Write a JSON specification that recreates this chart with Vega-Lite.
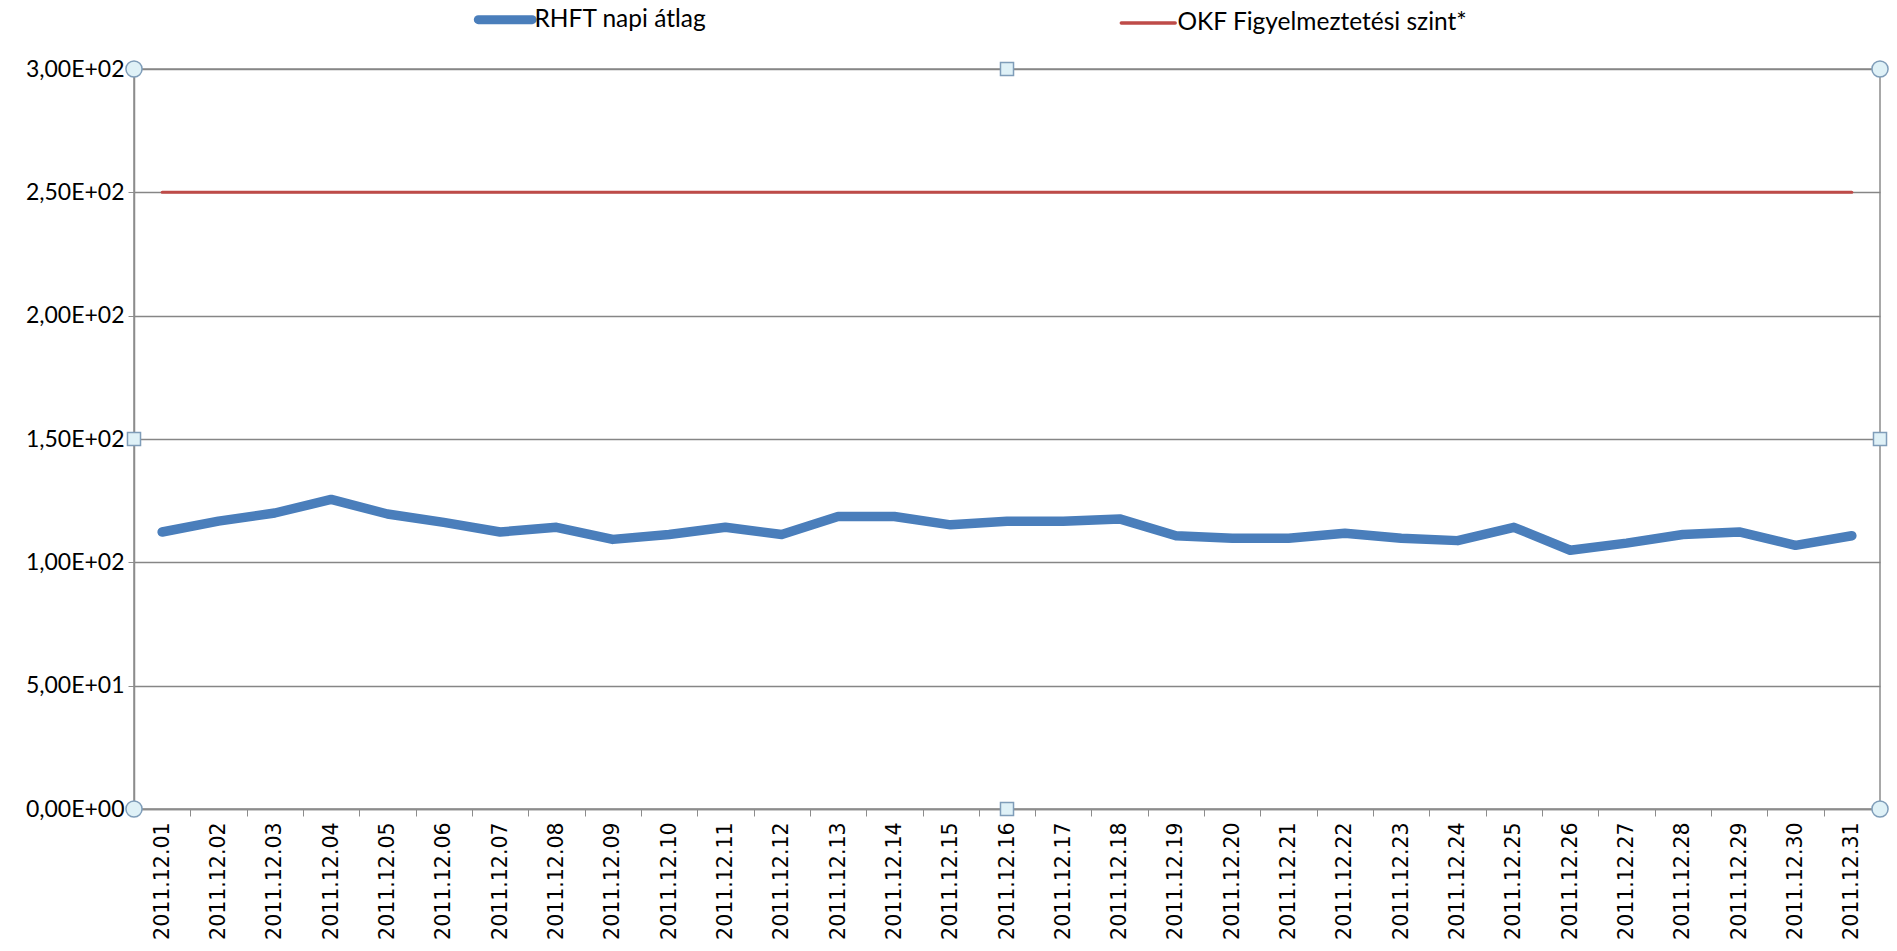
{
  "$schema": "https://vega.github.io/schema/vega-lite/v6.json",
  "width": 1746,
  "height": 740,
  "padding": {"left": 25, "top": 7, "right": 5, "bottom": 5},
  "background": "white",
  "config": {
    "view": {"stroke": "#8c8c8c", "strokeWidth": 1.5},
    "font": "Lato"
  },
  "datasets": {
    "series": [
      {"date": "2011.12.01", "series": "RHFT napi átlag", "value": 112.3},
      {"date": "2011.12.02", "series": "RHFT napi átlag", "value": 116.7},
      {"date": "2011.12.03", "series": "RHFT napi átlag", "value": 120.0},
      {"date": "2011.12.04", "series": "RHFT napi átlag", "value": 125.5},
      {"date": "2011.12.05", "series": "RHFT napi átlag", "value": 119.6},
      {"date": "2011.12.06", "series": "RHFT napi átlag", "value": 116.2},
      {"date": "2011.12.07", "series": "RHFT napi átlag", "value": 112.3},
      {"date": "2011.12.08", "series": "RHFT napi átlag", "value": 114.2},
      {"date": "2011.12.09", "series": "RHFT napi átlag", "value": 109.3},
      {"date": "2011.12.10", "series": "RHFT napi átlag", "value": 111.3},
      {"date": "2011.12.11", "series": "RHFT napi átlag", "value": 114.2},
      {"date": "2011.12.12", "series": "RHFT napi átlag", "value": 111.3},
      {"date": "2011.12.13", "series": "RHFT napi átlag", "value": 118.6},
      {"date": "2011.12.14", "series": "RHFT napi átlag", "value": 118.6},
      {"date": "2011.12.15", "series": "RHFT napi átlag", "value": 115.2},
      {"date": "2011.12.16", "series": "RHFT napi átlag", "value": 116.7},
      {"date": "2011.12.17", "series": "RHFT napi átlag", "value": 116.7},
      {"date": "2011.12.18", "series": "RHFT napi átlag", "value": 117.6},
      {"date": "2011.12.19", "series": "RHFT napi átlag", "value": 110.8},
      {"date": "2011.12.20", "series": "RHFT napi átlag", "value": 109.8},
      {"date": "2011.12.21", "series": "RHFT napi átlag", "value": 109.8},
      {"date": "2011.12.22", "series": "RHFT napi átlag", "value": 111.8},
      {"date": "2011.12.23", "series": "RHFT napi átlag", "value": 109.8},
      {"date": "2011.12.24", "series": "RHFT napi átlag", "value": 108.8},
      {"date": "2011.12.25", "series": "RHFT napi átlag", "value": 114.2},
      {"date": "2011.12.26", "series": "RHFT napi átlag", "value": 104.9},
      {"date": "2011.12.27", "series": "RHFT napi átlag", "value": 107.8},
      {"date": "2011.12.28", "series": "RHFT napi átlag", "value": 111.3},
      {"date": "2011.12.29", "series": "RHFT napi átlag", "value": 112.3},
      {"date": "2011.12.30", "series": "RHFT napi átlag", "value": 106.9},
      {"date": "2011.12.31", "series": "RHFT napi átlag", "value": 110.8},
      {"date": "2011.12.01", "series": "OKF Figyelmeztetési szint*", "value": 250},
      {"date": "2011.12.02", "series": "OKF Figyelmeztetési szint*", "value": 250},
      {"date": "2011.12.03", "series": "OKF Figyelmeztetési szint*", "value": 250},
      {"date": "2011.12.04", "series": "OKF Figyelmeztetési szint*", "value": 250},
      {"date": "2011.12.05", "series": "OKF Figyelmeztetési szint*", "value": 250},
      {"date": "2011.12.06", "series": "OKF Figyelmeztetési szint*", "value": 250},
      {"date": "2011.12.07", "series": "OKF Figyelmeztetési szint*", "value": 250},
      {"date": "2011.12.08", "series": "OKF Figyelmeztetési szint*", "value": 250},
      {"date": "2011.12.09", "series": "OKF Figyelmeztetési szint*", "value": 250},
      {"date": "2011.12.10", "series": "OKF Figyelmeztetési szint*", "value": 250},
      {"date": "2011.12.11", "series": "OKF Figyelmeztetési szint*", "value": 250},
      {"date": "2011.12.12", "series": "OKF Figyelmeztetési szint*", "value": 250},
      {"date": "2011.12.13", "series": "OKF Figyelmeztetési szint*", "value": 250},
      {"date": "2011.12.14", "series": "OKF Figyelmeztetési szint*", "value": 250},
      {"date": "2011.12.15", "series": "OKF Figyelmeztetési szint*", "value": 250},
      {"date": "2011.12.16", "series": "OKF Figyelmeztetési szint*", "value": 250},
      {"date": "2011.12.17", "series": "OKF Figyelmeztetési szint*", "value": 250},
      {"date": "2011.12.18", "series": "OKF Figyelmeztetési szint*", "value": 250},
      {"date": "2011.12.19", "series": "OKF Figyelmeztetési szint*", "value": 250},
      {"date": "2011.12.20", "series": "OKF Figyelmeztetési szint*", "value": 250},
      {"date": "2011.12.21", "series": "OKF Figyelmeztetési szint*", "value": 250},
      {"date": "2011.12.22", "series": "OKF Figyelmeztetési szint*", "value": 250},
      {"date": "2011.12.23", "series": "OKF Figyelmeztetési szint*", "value": 250},
      {"date": "2011.12.24", "series": "OKF Figyelmeztetési szint*", "value": 250},
      {"date": "2011.12.25", "series": "OKF Figyelmeztetési szint*", "value": 250},
      {"date": "2011.12.26", "series": "OKF Figyelmeztetési szint*", "value": 250},
      {"date": "2011.12.27", "series": "OKF Figyelmeztetési szint*", "value": 250},
      {"date": "2011.12.28", "series": "OKF Figyelmeztetési szint*", "value": 250},
      {"date": "2011.12.29", "series": "OKF Figyelmeztetési szint*", "value": 250},
      {"date": "2011.12.30", "series": "OKF Figyelmeztetési szint*", "value": 250},
      {"date": "2011.12.31", "series": "OKF Figyelmeztetési szint*", "value": 250}
    ],
    "handles": [
      {"hx": 0, "hy": 0, "kind": "circle"},
      {"hx": 1, "hy": 0, "kind": "circle"},
      {"hx": 0, "hy": 300, "kind": "circle"},
      {"hx": 1, "hy": 300, "kind": "circle"},
      {"hx": 0.5, "hy": 0, "kind": "square"},
      {"hx": 0.5, "hy": 300, "kind": "square"},
      {"hx": 0, "hy": 150, "kind": "square"},
      {"hx": 1, "hy": 150, "kind": "square"}
    ]
  },
  "layer": [
    {
      "data": {"name": "series"},
      "mark": {"type": "line", "strokeCap": "round", "strokeJoin": "round"},
      "encoding": {
        "x": {
          "field": "date",
          "type": "ordinal",
          "sort": null,
          "scale": {"paddingInner": 0, "paddingOuter": 0},
          "axis": {
            "title": null,
            "labelAngle": -90,
            "labelFont": "DejaVu Sans",
            "labelFontSize": 20.5,
            "labelColor": "#000000",
            "labelPadding": 6,
            "tickBand": "extent",
            "tickSize": 7,
            "tickColor": "#8c8c8c",
            "domainColor": "#8c8c8c",
            "domainWidth": 1.5,
            "grid": false
          }
        },
        "y": {
          "field": "value",
          "type": "quantitative",
          "scale": {"domain": [0, 300], "nice": false, "zero": true},
          "axis": {
            "title": null,
            "values": [0, 50, 100, 150, 200, 250, 300],
            "labelExpr": "datum.value == 0 ? '0,00E+00' : datum.value < 100 ? '5,00E+01' : replace(format(datum.value / 100, '.2f'), '.', ',') + 'E+02'",
            "labelFont": "Lato",
            "labelFontSize": 23,
            "labelColor": "#000000",
            "labelPadding": 4,
            "tickSize": 6,
            "tickColor": "#8c8c8c",
            "domainColor": "#8c8c8c",
            "domainWidth": 1.5,
            "grid": true,
            "gridColor": "#868686",
            "gridWidth": 1.3
          }
        },
        "color": {
          "field": "series",
          "type": "nominal",
          "sort": ["RHFT napi átlag", "OKF Figyelmeztetési szint*"],
          "scale": {"domain": ["RHFT napi átlag", "OKF Figyelmeztetési szint*"], "range": ["#4a7ebb", "#be4b48"]},
          "legend": {
            "title": null,
            "orient": "none",
            "legendX": 359,
            "legendY": -62,
            "direction": "horizontal",
            "symbolType": "stroke",
            "symbolSize": 2900,
            "labelFont": "Lato",
            "labelFontSize": 24.5,
            "labelColor": "#000000",
            "labelLimit": 0,
            "columnPadding": 407,
            "labelOffset": 17,
            "encode": {
              "symbols": {
                "update": {
                  "strokeWidth": {"signal": "datum.value == 'RHFT napi átlag' ? 9 : 3.5"},
                  "strokeCap": {"value": "round"}
                }
              }
            }
          }
        },
        "strokeWidth": {
          "field": "series",
          "type": "nominal",
          "sort": ["RHFT napi átlag", "OKF Figyelmeztetési szint*"],
          "scale": {"domain": ["RHFT napi átlag", "OKF Figyelmeztetési szint*"], "range": [9.5, 3]},
          "legend": null
        }
      }
    },
    {
      "data": {"name": "handles"},
      "mark": {"type": "point", "filled": true, "fill": "#dff1f7", "stroke": "#7f9db9", "strokeWidth": 1.5, "opacity": 1},
      "encoding": {
        "x": {"field": "hx", "type": "quantitative", "scale": {"domain": [0, 1], "nice": false}, "axis": null},
        "y": {"field": "hy", "type": "quantitative"},
        "shape": {"field": "kind", "type": "nominal", "scale": {"domain": ["circle", "square"], "range": ["circle", "square"]}, "legend": null},
        "size": {"field": "kind", "type": "nominal", "scale": {"domain": ["circle", "square"], "range": [260, 170]}, "legend": null}
      }
    }
  ],
  "resolve": {"scale": {"x": "independent", "strokeWidth": "independent", "size": "independent"}}
}
